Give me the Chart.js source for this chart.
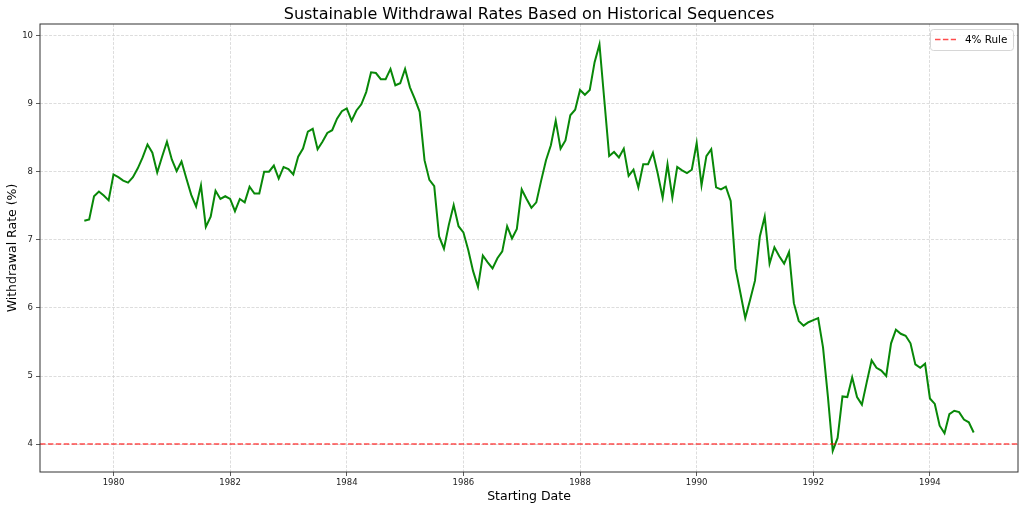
<!DOCTYPE html>
<html>
<head>
    <title>Sustainable Withdrawal Rates</title>
    <script src="https://cdn.jsdelivr.net/npm/chart.js"></script>
    <style>
        html, body { margin: 0; padding: 0; background: #fff; }
        #wrap { width: 1024px; height: 509px; }
    </style>
</head>
<body>
<div id="wrap"><canvas id="myChart"></canvas></div>

<script>
    // Monthly series, first point July 1979
    const startYear = 1979;
    const startMonth = 7;
    const rates = [
        7.28, 7.30, 7.64, 7.71, 7.65, 7.58,
        7.96, 7.92, 7.87, 7.84, 7.92, 8.05, 8.21, 8.40, 8.28, 7.99, 8.22, 8.44,
        8.18, 8.01, 8.15, 7.90, 7.66, 7.49, 7.80, 7.19, 7.34, 7.72, 7.60, 7.64,
        7.60, 7.42, 7.60, 7.55, 7.78, 7.68, 7.68, 8.00, 8.00, 8.09, 7.90, 8.07,
        8.04, 7.96, 8.22, 8.34, 8.59, 8.63, 8.33, 8.44, 8.57, 8.61, 8.78, 8.89,
        8.93, 8.75, 8.90, 8.99, 9.17, 9.46, 9.45, 9.36, 9.36, 9.51, 9.27, 9.30,
        9.51, 9.24, 9.07, 8.88, 8.17, 7.88, 7.79, 7.05, 6.87, 7.22, 7.51, 7.20,
        7.11, 6.85, 6.54, 6.31, 6.77, 6.67, 6.58, 6.73, 6.83, 7.20, 7.02, 7.16,
        7.74, 7.60, 7.47, 7.55, 7.87, 8.17, 8.39, 8.75, 8.34, 8.46, 8.83, 8.91,
        9.20, 9.13, 9.20, 9.61, 9.87, 9.05, 8.23, 8.29, 8.21, 8.34, 7.94, 8.03,
        7.77, 8.11, 8.11, 8.28, 7.97, 7.62, 8.11, 7.62, 8.07, 8.02, 7.98, 8.03,
        8.42, 7.80, 8.23, 8.33, 7.77, 7.74, 7.78, 7.57, 6.58, 6.22, 5.85, 6.12,
        6.40, 7.05, 7.34, 6.65, 6.89, 6.76, 6.65, 6.82, 6.07, 5.81, 5.74, 5.79,
        5.82, 5.85, 5.42, 4.70, 3.90, 4.09, 4.70, 4.69, 4.98, 4.69, 4.58, 4.91,
        5.23, 5.12, 5.08, 5.00, 5.48, 5.68, 5.62, 5.59, 5.48, 5.17, 5.12, 5.18,
        4.67, 4.59, 4.27, 4.16, 4.44, 4.49, 4.47, 4.36, 4.32, 4.17
    ];
    const ruleRate = 4;
    const ruleLabel = '4% Rule';
    const xTicks = [1980, 1982, 1984, 1986, 1988, 1990, 1992, 1994];
    const yTicks = [4, 5, 6, 7, 8, 9, 10];
    const xLimits = [1978.74, 1995.51];
    const yLimits = [3.59, 10.17];

    const FONT = '"DejaVu Sans", sans-serif';
    const ruleColor = 'rgba(255, 0, 0, 0.7)';
    const ruleDash = [5.5, 2.4];

    // decimal year for each month
    const points = rates.map((v, i) => ({ x: startYear + (startMonth - 1 + i) / 12, y: v }));

    // title, axis titles, frame and legend box (matplotlib look)
    const decorations = {
        id: 'decorations',
        afterDraw(chart) {
            const ctx = chart.ctx;
            const a = chart.chartArea;
            ctx.save();

            ctx.strokeStyle = '#333';
            ctx.lineWidth = 1;
            ctx.setLineDash([]);
            ctx.strokeRect(a.left, a.top, a.right - a.left, a.bottom - a.top);

            ctx.fillStyle = '#000';
            ctx.textAlign = 'center';
            ctx.textBaseline = 'alphabetic';
            ctx.font = '16px ' + FONT;
            ctx.fillText('Sustainable Withdrawal Rates Based on Historical Sequences', (a.left + a.right) / 2, 19);

            ctx.font = '12.5px ' + FONT;
            ctx.fillText('Starting Date', (a.left + a.right) / 2, 500);

            ctx.save();
            ctx.translate(13, (a.top + a.bottom) / 2);
            ctx.rotate(-Math.PI / 2);
            ctx.textBaseline = 'middle';
            ctx.fillText('Withdrawal Rate (%)', 0, 0);
            ctx.restore();

            // legend
            const lx = 930, ly = 29, lw = 83, lh = 21;
            ctx.beginPath();
            ctx.roundRect(lx + 0.5, ly + 0.5, lw, lh, 3);
            ctx.fillStyle = 'rgba(255,255,255,0.8)';
            ctx.fill();
            ctx.strokeStyle = '#d6d6d6';
            ctx.stroke();

            ctx.beginPath();
            ctx.strokeStyle = ruleColor;
            ctx.lineWidth = 1.5;
            ctx.setLineDash(ruleDash);
            ctx.moveTo(935, ly + lh / 2);
            ctx.lineTo(956, ly + lh / 2);
            ctx.stroke();

            ctx.setLineDash([]);
            ctx.fillStyle = '#000';
            ctx.textAlign = 'left';
            ctx.textBaseline = 'middle';
            ctx.font = '10.4px ' + FONT;
            ctx.fillText(ruleLabel, 965, ly + lh / 2 + 0.5);

            ctx.restore();
        }
    };

    const config = {
        type: 'line',
        data: {
            datasets: [
                {
                    label: ruleLabel,
                    data: [{ x: xLimits[0], y: ruleRate }, { x: xLimits[1], y: ruleRate }],
                    borderColor: ruleColor,
                    borderWidth: 1.5,
                    borderDash: ruleDash,
                    pointRadius: 0,
                    order: 0
                },
                {
                    label: 'rate',
                    data: points,
                    borderColor: '#088808',
                    borderWidth: 2,
                    pointRadius: 0,
                    tension: 0,
                    order: 1
                }
            ]
        },
        options: {
            responsive: true,
            maintainAspectRatio: false,
            animation: false,
            layout: { padding: { top: 24, right: 6, left: 0, bottom: 0 } },
            plugins: {
                legend: { display: false },
                tooltip: { enabled: false },
                title: { display: false }
            },
            scales: {
                x: {
                    type: 'linear',
                    min: xLimits[0],
                    max: xLimits[1],
                    afterBuildTicks: (scale) => { scale.ticks = xTicks.map(v => ({ value: v })); },
                    afterFit: (scale) => { scale.height = 37; },
                    ticks: {
                        callback: (v) => String(v),
                        color: '#222',
                        font: { family: FONT, size: 8.5 },
                        padding: 2,
                        maxRotation: 0,
                        autoSkip: false
                    },
                    grid: {
                        color: '#d4d4d4',
                        lineWidth: 0.8,
                        tickLength: 4,
                        tickColor: '#333',
                        tickWidth: 0.8
                    },
                    border: { display: false, dash: [3, 1.5] }
                },
                y: {
                    min: yLimits[0],
                    max: yLimits[1],
                    afterBuildTicks: (scale) => { scale.ticks = yTicks.map(v => ({ value: v })); },
                    afterFit: (scale) => { scale.width = 40; },
                    ticks: {
                        callback: (v) => String(v),
                        color: '#222',
                        font: { family: FONT, size: 8.5 },
                        padding: 3,
                        autoSkip: false
                    },
                    grid: {
                        color: '#d4d4d4',
                        lineWidth: 0.8,
                        tickLength: 4,
                        tickColor: '#333',
                        tickWidth: 0.8
                    },
                    border: { display: false, dash: [3, 1.5] }
                }
            }
        },
        plugins: [decorations]
    };

    window.onload = function() {
        const ctx = document.getElementById('myChart').getContext('2d');
        new Chart(ctx, config);
    };
</script>
</body>
</html>
